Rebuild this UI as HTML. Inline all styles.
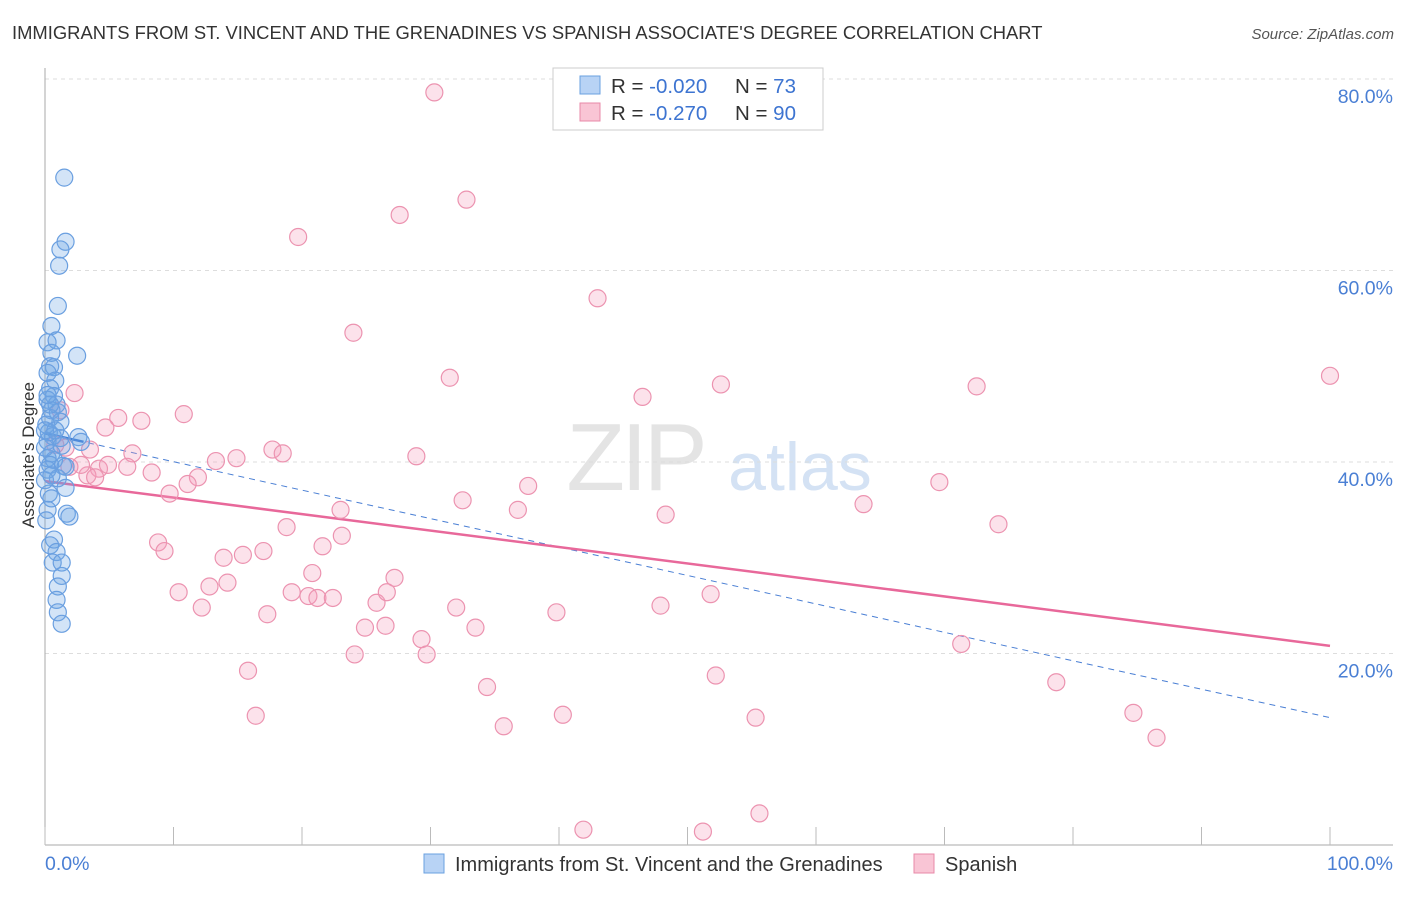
<!DOCTYPE html>
<html><head><meta charset="utf-8"><style>
body{margin:0;background:#fff;font-family:"Liberation Sans",sans-serif}
svg text{font-family:"Liberation Sans",sans-serif}
</style></head><body>
<svg id="chart" width="1406" height="892" xmlns="http://www.w3.org/2000/svg">
<text x="12" y="39" font-size="18.4" fill="#333">IMMIGRANTS FROM ST. VINCENT AND THE GRENADINES VS SPANISH ASSOCIATE'S DEGREE CORRELATION CHART</text>
<text x="1394" y="39" font-size="15" fill="#555" font-style="italic" text-anchor="end">Source: ZipAtlas.com</text>
<g>
<text x="635" y="490" font-size="96" fill="#e4e4e4" font-family="Liberation Serif" text-anchor="middle" letter-spacing="-4">ZIP</text>
<text x="800" y="490" font-size="68" fill="#d4e2f4" text-anchor="middle">atlas</text>
</g>
<g id="grid"></g>
<g id="axes"></g>
<g id="trend"></g>
<g id="pts"></g>
<text transform="translate(34,455) rotate(-90)" font-size="17" fill="#333" text-anchor="middle">Associate's Degree</text>
<g>
<rect x="553" y="68" width="270" height="62" fill="#fff" stroke="#ccc"/>
<rect x="580" y="76" width="20" height="18" fill="#b8d3f5" stroke="#6aa0e0"/>
<rect x="580" y="103" width="20" height="18" fill="#f9c5d5" stroke="#e889a8"/>
<text x="611" y="93" font-size="20.5" fill="#333">R = <tspan fill="#3d74d1">-0.020</tspan><tspan x="735">N = </tspan><tspan fill="#3d74d1">73</tspan></text>
<text x="611" y="120" font-size="20.5" fill="#333">R = <tspan fill="#3d74d1">-0.270</tspan><tspan x="735">N = </tspan><tspan fill="#3d74d1">90</tspan></text>
</g>
<g>
<rect x="424" y="854" width="20" height="19" fill="#b8d3f5" stroke="#6aa0e0"/>
<text x="455" y="871" font-size="20" fill="#333">Immigrants from St. Vincent and the Grenadines</text>
<rect x="914" y="854" width="20" height="19" fill="#f9c5d5" stroke="#e889a8"/>
<text x="945" y="871" font-size="20" fill="#333">Spanish</text>
</g>
</svg>
<script>
const yTicks=[20,40,60,80];
const xTickLabels=["0.0%","100.0%"];
const blueX=[1.5,1.6,1.2,1.1,1.0,0.5,0.2,0.9,2.5,0.5,0.4,0.7,0.2,0.8,0.4,0.7,0.2,0.9,0.5,1.0,0.4,1.2,0.1,0.3,0.6,1.2,2.6,2.8,0.2,1.3,0.5,0.2,0.7,0.4,1.4,1.6,0.2,1.0,1.6,0.3,0.5,0.2,1.7,1.9,0.7,0.4,0.9,0.6,1.3,1.3,1.0,0.9,1.0,1.3,0,0,0,0.4,0.8,0.2,0.5,0.1];
const blueY=[69.7,63.0,62.2,60.5,56.3,54.2,52.5,52.7,51.1,51.4,50.0,49.9,49.3,48.5,47.7,46.9,46.5,46.0,45.4,45.2,44.6,44.2,43.9,43.1,42.7,42.5,42.6,42.1,42.2,41.7,40.9,40.4,40.2,39.7,39.6,39.5,39.2,38.3,37.3,36.7,36.2,35.0,34.6,34.3,31.9,31.3,30.6,29.5,29.5,28.1,27.0,25.6,24.3,23.1,43.3,41.5,38.1,46.0,43.3,47.0,38.6,33.9];
const pinkX=[30.3,32.8,27.6,19.7,43.0,24.0,31.5,52.6,72.5,100,46.5,2.3,10.8,5.7,7.5,4.7,1.2,6.8,17.7,18.5,14.9,13.3,28.9,6.4,4.2,3.3,2.8,3.9,8.3,11.9,11.1,9.7,37.6,69.6,32.5,23.0,36.8,48.3,63.7,74.2,18.8,23.1,21.6,8.8,9.3,17.0,15.4,13.9,27.2,20.8,14.2,12.8,10.4,19.2,20.5,21.2,22.4,25.8,26.6,12.2,17.3,32.0,39.8,47.9,51.8,24.9,26.5,33.5,29.3,29.7,24.1,71.3,15.8,34.4,52.2,78.7,16.4,35.7,40.3,55.3,84.7,86.5,41.9,51.2,55.6,3.5,4.9,1.6,1.9,0.8];
const pinkY=[78.6,67.4,65.8,63.5,57.1,53.5,48.8,48.1,47.9,49.0,46.8,47.2,45.0,44.6,44.3,43.6,45.4,40.9,41.3,40.9,40.4,40.1,40.6,39.5,39.3,38.6,39.7,38.4,38.9,38.4,37.7,36.7,37.5,37.9,36.0,35.0,35.0,34.5,35.6,33.5,33.2,32.3,31.2,31.6,30.7,30.7,30.3,30.0,27.9,28.4,27.4,27.0,26.4,26.4,26.0,25.8,25.8,25.3,26.4,24.8,24.1,24.8,24.3,25.0,26.2,22.7,22.9,22.7,21.5,19.9,19.9,21.0,18.2,16.5,17.7,17.0,13.5,12.4,13.6,13.3,13.8,11.2,1.6,1.4,3.3,41.3,39.7,41.5,39.5,41.8];
const blueTrend=[43.0,13.3];
const pinkTrend=[38.0,20.8];
const NS="http://www.w3.org/2000/svg";
const X=v=>45+v*12.85, Y=v=>845-v*9.575;
function mk(t,a,p){const e=document.createElementNS(NS,t);for(const k in a)e.setAttribute(k,a[k]);p.appendChild(e);return e;}
const grid=document.getElementById('grid'),axes=document.getElementById('axes');
yTicks.forEach(t=>{
 const l=mk('line',{x1:45,x2:1393,y1:Y(t),y2:Y(t),stroke:'#ddd','stroke-dasharray':'4,4'},grid);
 
 
 const tx=mk('text',{x:1393,y:Y(t)+24,'font-size':19.5,fill:'#4a7fd4','text-anchor':'end'},axes);
 tx.textContent=t.toFixed(1)+'%';
 
 
});
mk('line',{x1:45,x2:45,y1:68,y2:845,stroke:'#aaa'},axes);
mk('line',{x1:45,x2:1393,y1:845,y2:845,stroke:'#aaa'},axes);
for(let i=0;i<=10;i++){const t=mk('line',{x1:X(i*10),x2:X(i*10),y1:827,y2:845,stroke:'#bbb'},axes);
 
 }
[[0,'start'],[100,'end']].forEach((p,i)=>{const t=mk('text',{x:i?1393:45,y:870,'font-size':19.5,fill:'#4a7fd4','text-anchor':p[1]},axes);
 t.textContent=xTickLabels[i];
 
 });
const pts=document.getElementById('pts');
pinkX.forEach((x,i)=>{const c=mk('circle',{cx:X(x),cy:Y(pinkY[i]),r:8.5,fill:'rgba(244,160,188,0.3)',stroke:'#ec93b0','stroke-width':1.2},pts);
 
 });
blueX.forEach((x,i)=>{const c=mk('circle',{cx:X(x),cy:Y(blueY[i]),r:8.5,fill:'rgba(110,165,230,0.3)',stroke:'#6a9fe0','stroke-width':1.2},pts);
 
 });
const tr=document.getElementById('trend');
const bd=mk('line',{x1:X(0),y1:Y(blueTrend[0]),x2:X(100),y2:Y(blueTrend[1]),stroke:'#4a7fd4','stroke-width':1,'stroke-dasharray':'6,5'},tr);


const bs=mk('line',{x1:X(0),y1:Y(blueTrend[0]),x2:X(3),y2:Y(blueTrend[0]+(blueTrend[1]-blueTrend[0])*0.03),stroke:'#2f6fd0','stroke-width':2.5},tr);


const ps=mk('line',{x1:X(0),y1:Y(pinkTrend[0]),x2:X(100),y2:Y(pinkTrend[1]),stroke:'#e8689a','stroke-width':2.5},tr);


</script>
</body></html>
